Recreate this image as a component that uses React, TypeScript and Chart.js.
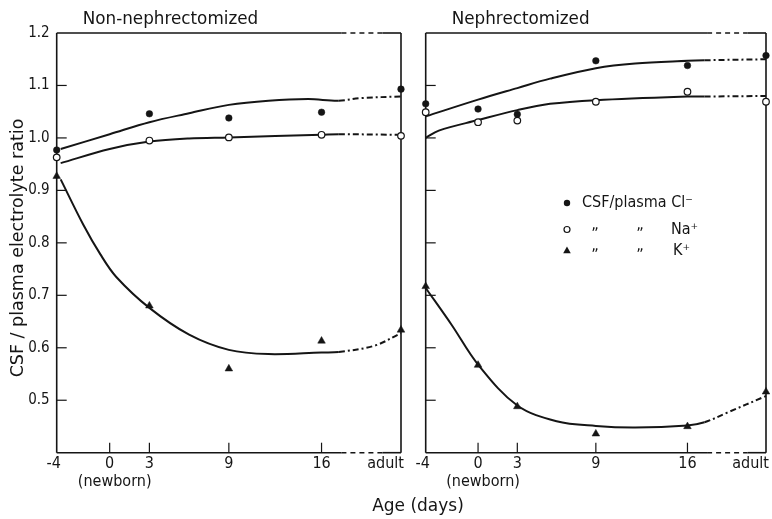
import React, { useEffect, useRef } from "react";
import { Chart, registerables } from "chart.js";

Chart.register(...registerables);

const W = 772;
const H = 519;
const INK = "#151515";

// ---------- axes ----------
const ADULT = 22; // position used for the "adult" column
const X_MIN = -4;
const X_MAX = ADULT;
const xTickValues = [-4, 0, 3, 9, 16, ADULT];
const xTickLabels = ["-4", "0", "3", "9", "16", "adult"];
const Y_MIN = 0.4;
const Y_MAX = 1.2;
const yTickValues = [0.5, 0.6, 0.7, 0.8, 0.9, 1.0, 1.1, 1.2];
const yTickLabels = ["0.5", "0.6", "0.7", "0.8", "0.9", "1.0", "1.1", "1.2"];
const DASH_FROM = 17.3;
const FRAME_DASH_FROM = 17.5;
const FRAME_DASH_TO = 20.6;

// ---------- text ----------
const panelTitles = ["Non-nephrectomized", "Nephrectomized"];
const yTitle = "CSF / plasma electrolyte ratio";
const xTitle = "Age (days)";
const newbornNote = "(newborn)";
const legendLabels = ["CSF/plasma Cl\u207B", "Na\u207A", "K\u207A"];

// ---------- Non-nephrectomized: measured points ----------
const nonDays = [-4, 3, 9, 16, ADULT];
const nonCl = [0.977, 1.046, 1.038, 1.049, 1.093];
const nonNa = [0.963, 0.995, 1.001, 1.006, 1.004];
const nonK = [0.927, 0.68, 0.56, 0.613, 0.634];

// ---------- Non-nephrectomized: fitted curves ----------
const nonClCurveX = [-3.7, 0, 3, 6, 9, 12, 15, 17.3, 19, ADULT];
const nonClCurveY = [0.979, 1.007, 1.03, 1.047, 1.063, 1.071, 1.074, 1.071, 1.076, 1.079];
const nonNaCurveX = [-3.7, 0, 3, 6, 9, 16, 17.3, ADULT];
const nonNaCurveY = [0.952, 0.979, 0.993, 0.999, 1.001, 1.006, 1.007, 1.006];
const nonKCurveX = [-3.7, -2, -0.7, 0.5, 3, 6, 9, 12, 16, 17.3, 20, ADULT];
const nonKCurveY = [0.921, 0.835, 0.778, 0.735, 0.676, 0.625, 0.596, 0.588, 0.591, 0.592, 0.604, 0.628];

// ---------- Nephrectomized: measured points ----------
const nephDays = [-4, 0, 3, 9, 16, ADULT];
const nephCl = [1.065, 1.055, 1.045, 1.147, 1.138, 1.157];
const nephNa = [1.049, 1.03, 1.033, 1.069, 1.088, 1.069];
const nephK = [0.717, 0.567, 0.488, 0.436, 0.45, 0.516];

// ---------- Nephrectomized: fitted curves ----------
const nephClCurveX = [-4, 0, 3, 5.5, 9, 12, 16, 17.3, ADULT];
const nephClCurveY = [1.041, 1.073, 1.095, 1.113, 1.133, 1.142, 1.147, 1.148, 1.15];
const nephNaCurveX = [-4, -3, 0, 3, 5.5, 9, 16, 17.3, ADULT];
const nephNaCurveY = [1.0, 1.014, 1.034, 1.053, 1.065, 1.072, 1.079, 1.079, 1.08];
const nephKCurveX = [-4, -2, 0, 3, 6, 9, 12, 16, 17.3, 19, ADULT];
const nephKCurveY = [0.714, 0.643, 0.568, 0.49, 0.46, 0.451, 0.448, 0.452, 0.458, 0.476, 0.508];

// ---------- layout (page pixels) ----------
const PLOT_TOP = 33;
const PLOT_BOTTOM = 452.7;
const panelsX = [
  { left: 56.7, right: 401 },
  { left: 425.7, right: 766 },
];

const SANS = "'DejaVu Sans', sans-serif";
const COND = "'DejaVu Sans Condensed', 'DejaVu Sans', sans-serif";

const pts = (xs: number[], ys: number[]) => xs.map((x, i) => ({ x, y: ys[i] }));

function curve(xs: number[], ys: number[]) {
  return {
    type: "line" as const,
    data: pts(xs, ys),
    borderColor: INK,
    borderWidth: 2,
    pointRadius: 0,
    tension: 0.35,
    clip: false as const,
    order: 2,
    segment: {
      borderDash: (ctx: any) => (ctx.p0.parsed.x >= DASH_FROM - 1e-6 ? [6, 3, 2, 3] : undefined),
    },
  };
}

function markers(xs: number[], ys: number[], kind: "dot" | "ring" | "tri") {
  return {
    type: "line" as const,
    data: pts(xs, ys),
    showLine: false,
    pointStyle: kind === "tri" ? "triangle" : "circle",
    pointRadius: kind === "tri" ? 4.4 : 3.3,
    pointBackgroundColor: kind === "ring" ? "#ffffff" : INK,
    pointBorderColor: INK,
    pointBorderWidth: kind === "ring" ? 1.2 : 0.5,
    clip: false as const,
    order: 0,
  };
}

function seg(ctx: CanvasRenderingContext2D, x1: number, y1: number, x2: number, y2: number) {
  ctx.beginPath();
  ctx.moveTo(x1, y1);
  ctx.lineTo(x2, y2);
  ctx.stroke();
}

const decorPlugin = {
  id: "panelDecor",
  beforeDatasetsDraw(chart: any) {
    const { ctx, chartArea: a } = chart;
    const xs = chart.scales.x;
    const ys = chart.scales.y;
    ctx.save();
    ctx.strokeStyle = INK;
    ctx.lineWidth = 1.6;
    seg(ctx, a.left, a.top, a.left, a.bottom);
    seg(ctx, a.right, a.top, a.right, a.bottom);
    const d0 = xs.getPixelForValue(FRAME_DASH_FROM);
    const d1 = xs.getPixelForValue(FRAME_DASH_TO);
    for (const yy of [a.top, a.bottom]) {
      seg(ctx, a.left, yy, d0, yy);
      seg(ctx, d1, yy, a.right, yy);
      ctx.setLineDash([5, 4]);
      seg(ctx, d0, yy, d1, yy);
      ctx.setLineDash([]);
    }
    ctx.lineWidth = 1.2;
    yTickValues.forEach((v) => {
      if (v >= Y_MAX) return;
      const py = ys.getPixelForValue(v);
      seg(ctx, a.left, py, a.left + 10, py);
    });
    xTickValues.forEach((v) => {
      if (v <= X_MIN || v >= X_MAX) return;
      const px = xs.getPixelForValue(v);
      seg(ctx, px, a.bottom, px, a.bottom - 10);
    });
    ctx.restore();
  },
  afterDraw(chart: any, _args: any, opts: any) {
    const { ctx, chartArea: a } = chart;
    const xs = chart.scales.x;
    const ys = chart.scales.y;
    const idx = opts.index as number;
    ctx.save();
    ctx.fillStyle = INK;

    // panel title
    ctx.font = `16.8px ${SANS}`;
    ctx.textAlign = "left";
    ctx.textBaseline = "middle";
    ctx.fillText(panelTitles[idx], a.left + 26, 20);

    // x tick labels
    ctx.font = `16px ${COND}`;
    ctx.textBaseline = "middle";
    xTickValues.forEach((v, i) => {
      const px = xs.getPixelForValue(v);
      if (v >= X_MAX) {
        ctx.textAlign = "right";
        ctx.fillText(xTickLabels[i], px + 3, 464);
      } else {
        ctx.textAlign = "center";
        ctx.fillText(xTickLabels[i], v <= X_MIN ? px - 3 : px, 464);
      }
    });
    ctx.textAlign = "center";
    ctx.fillText(newbornNote, xs.getPixelForValue(0) + 5, 482);

    if (idx === 0) {
      // y tick labels
      ctx.font = `15px ${COND}`;
      ctx.textAlign = "right";
      ctx.textBaseline = "middle";
      yTickValues.forEach((v, i) => {
        ctx.fillText(yTickLabels[i], a.left - 7, ys.getPixelForValue(v));
      });
      // y title
      ctx.save();
      ctx.translate(18, 248);
      ctx.rotate(-Math.PI / 2);
      ctx.font = `17.5px ${SANS}`;
      ctx.textAlign = "center";
      ctx.textBaseline = "middle";
      ctx.fillText(yTitle, 0, 0);
      ctx.restore();
      // x title (shared)
      ctx.font = `17px ${SANS}`;
      ctx.textAlign = "center";
      ctx.textBaseline = "middle";
      ctx.fillText(xTitle, 418, 507);
    } else {
      // legend
      const mx = 567;
      const rows = [203, 229.5, 251];
      ctx.strokeStyle = INK;
      ctx.beginPath();
      ctx.arc(mx, rows[0], 3.2, 0, Math.PI * 2);
      ctx.fill();
      ctx.beginPath();
      ctx.arc(mx, rows[1], 3.0, 0, Math.PI * 2);
      ctx.lineWidth = 1.2;
      ctx.stroke();
      ctx.beginPath();
      ctx.moveTo(mx, rows[2] - 4.4);
      ctx.lineTo(mx + 3.8, rows[2] + 2.2);
      ctx.lineTo(mx - 3.8, rows[2] + 2.2);
      ctx.closePath();
      ctx.fill();

      ctx.font = `16px ${COND}`;
      ctx.textAlign = "left";
      ctx.textBaseline = "middle";
      ctx.fillText(legendLabels[0], 582, rows[0]);
      ctx.fillText(legendLabels[1], 671, rows[1]);
      ctx.fillText(legendLabels[2], 673, rows[2]);
      ctx.textAlign = "center";
      ctx.textBaseline = "alphabetic";
      for (const r of [rows[1], rows[2]]) {
        ctx.fillText("\u201E", 595, r - 1);
        ctx.fillText("\u201E", 640, r - 1);
      }
    }
    ctx.restore();
  },
};

function makeConfig(index: number, datasets: any[]) {
  const p = panelsX[index];
  return {
    type: "line" as const,
    data: { datasets },
    options: {
      animation: false as const,
      responsive: false,
      maintainAspectRatio: false,
      devicePixelRatio: 1,
      events: [],
      layout: {
        padding: { left: p.left, right: W - p.right, top: PLOT_TOP, bottom: H - PLOT_BOTTOM },
      },
      scales: {
        x: { type: "linear" as const, min: X_MIN, max: X_MAX, display: false },
        y: { type: "linear" as const, min: Y_MIN, max: Y_MAX, display: false },
      },
      plugins: {
        legend: { display: false },
        tooltip: { enabled: false },
        panelDecor: { index },
      },
    },
    plugins: [decorPlugin],
  };
}

export default function App() {
  const leftRef = useRef<HTMLCanvasElement>(null);
  const rightRef = useRef<HTMLCanvasElement>(null);

  useEffect(() => {
    const c1 = new Chart(
      leftRef.current as HTMLCanvasElement,
      makeConfig(0, [
        markers(nonDays, nonCl, "dot"),
        markers(nonDays, nonNa, "ring"),
        markers(nonDays, nonK, "tri"),
        curve(nonClCurveX, nonClCurveY),
        curve(nonNaCurveX, nonNaCurveY),
        curve(nonKCurveX, nonKCurveY),
      ]) as any
    );
    const c2 = new Chart(
      rightRef.current as HTMLCanvasElement,
      makeConfig(1, [
        markers(nephDays, nephCl, "dot"),
        markers(nephDays, nephNa, "ring"),
        markers(nephDays, nephK, "tri"),
        curve(nephClCurveX, nephClCurveY),
        curve(nephNaCurveX, nephNaCurveY),
        curve(nephKCurveX, nephKCurveY),
      ]) as any
    );
    return () => {
      c1.destroy();
      c2.destroy();
    };
  }, []);

  const canvasStyle: React.CSSProperties = {
    position: "absolute",
    left: 0,
    top: 0,
    width: W,
    height: H,
  };

  return (
    <div style={{ position: "absolute", left: 0, top: 0, width: W, height: H, background: "#ffffff" }}>
      <canvas ref={leftRef} width={W} height={H} style={canvasStyle} />
      <canvas ref={rightRef} width={W} height={H} style={canvasStyle} />
    </div>
  );
}
